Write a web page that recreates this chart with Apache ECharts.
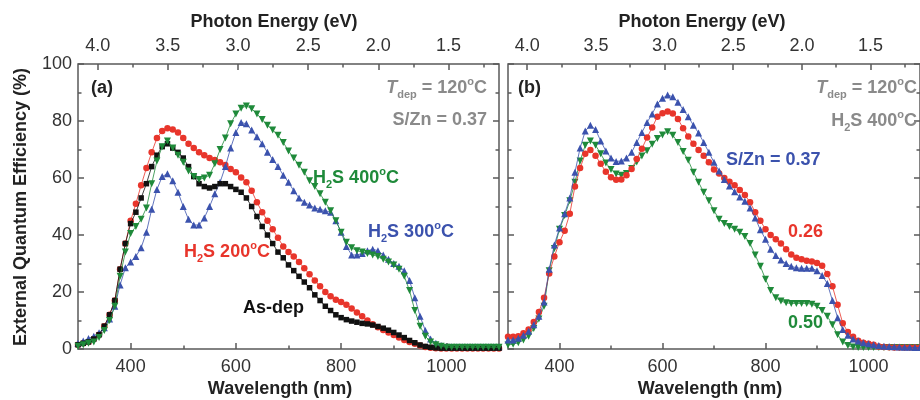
<!DOCTYPE html>
<html><head><meta charset="utf-8">
<script src="https://cdn.jsdelivr.net/npm/echarts@6/dist/echarts.min.js"></script>
<style>html,body{margin:0;padding:0;background:#fff}#c{width:920px;height:400px}</style>
</head><body><div id="c"></div>
<script>
// ---- data (EQE %, every 10 nm) ----
const wavelength = [300,310,320,330,340,350,360,370,380,390,400,410,420,430,440,450,460,470,480,490,500,510,520,530,540,550,560,570,580,590,600,610,620,630,640,650,660,670,680,690,700,710,720,730,740,750,760,770,780,790,800,810,820,830,840,850,860,870,880,890,900,910,920,930,940,950,960,970,980,990,1000,1010,1020,1030,1040,1050,1060,1070,1080,1090,1100];

// panel (a)
const asDep = [1.5,2,2.5,3.5,5,8,12,17,28,37,44,48,53,58,64,68,71,72,70.5,69,67,64,60.5,58,57,56.5,57,58,58,57,56,55,53,50,46.5,43,40,37,34,32,29.5,27.5,25.5,23.5,21.5,19,17,15,13.5,12,11,10.3,9.8,9.4,9,8.8,8.4,7.9,7.3,6.6,5.8,4.9,4,3,2.2,1.4,0.9,0.6,0.4,0.3,0.3,0.3,0.3,0.3,0.3,0.3,0.3,0.3,0.3,0.3,0.3];
const h2s200 = [1.5,2,2.5,3.5,5,8,12,17,28,37,45,51,57.5,63.5,69,74,76.5,77.5,77,76,74,72,70.5,69,68,67,66.3,65.5,64.6,63.2,62,60.2,58.5,55.5,51.5,48,45,42,39,36,34,32.5,30.5,28.3,26.2,24,22,20,18.5,17.3,16.5,15.5,14.2,12.8,11.5,10,8.7,7.6,6.7,5.8,4.9,4,3.2,2.5,1.8,1.2,0.7,0.4,0.3,0.2,0.2,0.2,0.2,0.2,0.2,0.2,0.2,0.2,0.2,0.2,0.2];
const h2s300 = [2,2.8,3.7,4.5,5.7,7.5,10.5,15,22.5,28.5,30.5,32.5,35.5,41,49,56,60.5,61.5,59,55,50,45.5,43.5,43.5,46,50,54.5,58.5,64,70.5,76,79.5,79,76.8,74.5,72,69,66.5,64,61,58.5,55.5,53,51.5,50.5,49.5,49,48.5,48,45,41,36,33,33,33.5,34.5,35,34.5,33,31.5,30,29,27.5,24,18,11.5,6.5,3.5,2,1.2,0.8,0.8,0.8,0.8,0.8,0.8,0.8,0.8,0.8,0.8,0.8];
const h2s400 = [1,1.5,2,2.5,4,6.5,10,15,25.5,34,40.5,43,45.5,49.5,58,66,71,73,70.5,68,65.5,62.5,60.5,59.5,60,61,65,70,74,79,82.5,84.5,85.3,84.3,82.5,80.5,78.5,76.8,75,72.5,69.5,67,64.5,62,59,57,54.5,51.5,48.5,45,41,37.5,35.5,34.5,34,33.5,33,32.5,31.5,30.5,29.5,28,25.5,20.5,13.5,8,4.5,2.5,1.5,1,0.6,0.6,0.6,0.6,0.6,0.6,0.6,0.6,0.6,0.6,0.6];

// panel (b)
const sz037 = [3.2,3.2,3.8,4.8,6.2,8.5,11.5,16.5,28,36.5,42.5,47.5,53,62,70.5,76.5,78.5,77,73,69.5,67,65.8,66,67,69,72.5,76,79.5,82.5,86,88,89.1,88.5,86.6,84,81.5,78.5,75.8,72.5,69,65.5,62.5,59.5,57.2,55.2,53.3,51.8,49.5,46,41.8,38.5,35,32.8,31.2,30,29,28.5,28.3,28.3,28.3,27.5,25.8,23,17,11,6.8,4.8,3.5,2.8,2.2,1.8,1.5,1.2,1,0.9,0.8,0.7,0.6,0.6,0.5,0.5];
const sz026 = [4.3,4.3,4.5,5.5,6.8,9.5,13,18,26.5,32.5,37.5,41.5,47.5,57,63.5,68.5,69.8,67.8,65,62.2,60.3,59.4,59.5,61,63.2,66.7,70.3,74.2,77.7,81.5,82.7,83.3,82.6,80.7,77.5,74.6,72,69.8,67.8,65.5,63,61.6,60,58.7,57.5,55.8,54,51.5,48,45,42,40,38.5,37,35,33.2,32,31.5,31,30.7,30.2,29.2,26.3,22,15.5,9,6,4.3,2.9,2.2,1.8,1.5,0.9,0.7,0.6,0.5,0.5,0.5,0.5,0.5,0.5];
const sz050 = [1.4,1.7,2.2,3.2,4.5,7.2,10.5,15,27.5,35.3,42,46.8,52,58.5,66,71.5,73,71.5,68.5,65.3,63,61.4,61,61.6,63.3,65.6,67.7,69.6,71.8,73.9,75.1,76.2,75,72.5,69.3,66.2,62,58.5,55,52,48.5,45.5,44,43,42,41,39.5,37,33,29,24.5,20.5,18,16.8,16.2,16,16,16,16,15.7,15,13.5,11.5,8.5,5,2.5,1.2,0.7,0.5,0.5,0.5,0.5,0.5,0.5,0.5,0.5,0.5,0.5,0.5,0.5,0.5];

// tick labels
const wlTickLabels = [400, 600, 800, 1000];
const wlMinorTicks = [500, 700, 900];
const energyTickLabels = [1.5, 2.0, 2.5, 3.0, 3.5, 4.0];
const energyMinorTicks = [1.25, 1.75, 2.25, 2.75, 3.25, 3.75];

// ---- styling ----
const FONT = "'Liberation Sans', Arial, Helvetica, sans-serif";
const AX = '#5a5a5a';
const LBL = '#333';
const RED = '#e8352b', BLUE = '#3b52ad', GREEN = '#1f8a3a', BLACK = '#111', GRAY = '#8a8a8a';

const grids = [
  {left: 78, top: 64, width: 421, height: 285},
  {left: 508, top: 64, width: 419, height: 285}
];

function xAxesFor(g) {
  const tickStyle = {color: AX, width: 1.5};
  return [
    {gridIndex: g, type: 'value', position: 'bottom', min: 300, max: 1100,
     axisLine: {show: false}, splitLine: {show: false},
     axisTick: {show: true, inside: true, length: 6, customValues: wlTickLabels, lineStyle: tickStyle},
     axisLabel: {show: true, customValues: wlTickLabels, fontSize: 18, color: LBL, fontFamily: FONT, margin: 9,
                 formatter: v => String(Math.round(v))}},
    {gridIndex: g, type: 'value', position: 'bottom', min: 300, max: 1100,
     axisLine: {show: false}, splitLine: {show: false},
     axisTick: {show: true, inside: true, length: 3.5, customValues: wlMinorTicks, lineStyle: tickStyle},
     axisLabel: {show: false}},
    {gridIndex: g, type: 'value', position: 'top', inverse: true, min: 1.14, max: 4.14,
     axisLine: {show: false}, splitLine: {show: false},
     axisTick: {show: true, inside: true, length: 6, customValues: energyTickLabels, lineStyle: tickStyle},
     axisLabel: {show: true, customValues: energyTickLabels, fontSize: 18, color: LBL, fontFamily: FONT, margin: 9,
                 formatter: v => Number(v).toFixed(1)}},
    {gridIndex: g, type: 'value', position: 'top', inverse: true, min: 1.14, max: 4.14,
     axisLine: {show: false}, splitLine: {show: false},
     axisTick: {show: true, inside: true, length: 3.5, customValues: energyMinorTicks, lineStyle: tickStyle},
     axisLabel: {show: false}}
  ];
}
function yAxesFor(g, showLabels) {
  const base = {gridIndex: g, type: 'value', min: 0, max: 100, interval: 20,
    axisLine: {show: false}, splitLine: {show: false},
    axisTick: {show: true, inside: true, length: 6, lineStyle: {color: AX, width: 1.5}},
    minorTick: {show: true, splitNumber: 2, length: 3.5, lineStyle: {color: AX, width: 1.5}}};
  return [
    Object.assign({}, base, {position: 'left', axisLabel: {show: showLabels, fontSize: 18, color: LBL, fontFamily: FONT, margin: 6}}),
    Object.assign({}, base, {position: 'right', axisLabel: {show: false}})
  ];
}

function mkSeries(name, arr, color, symbol, size, rotate, xi, yi, z) {
  return {
    name, type: 'line', xAxisIndex: xi, yAxisIndex: yi,
    data: wavelength.map((w, i) => [w, arr[i]]),
    symbol, symbolSize: size, symbolRotate: rotate, showSymbol: true, showAllSymbol: true,
    itemStyle: {color}, lineStyle: {color, width: 1, opacity: 0.8},
    z, animation: false, clip: true
  };
}

// rich text for labels
function rich(fs, bold, color) {
  const w = bold ? 'bold' : 'normal';
  return {
    n: {fontSize: fs, fontWeight: w, fontFamily: FONT, fill: color, lineHeight: 24, verticalAlign: 'middle'},
    it: {fontSize: fs, fontWeight: w, fontStyle: 'italic', fontFamily: FONT, fill: color, lineHeight: 24, verticalAlign: 'middle'},
    sub: {fontSize: 11, fontWeight: w, fontFamily: FONT, fill: color, lineHeight: 11, verticalAlign: 'bottom'},
    sup: {fontSize: 11, fontWeight: w, fontFamily: FONT, fill: color, lineHeight: 11, verticalAlign: 'top'}
  };
}
function txt(x, y, text, color, align, fs, bold, extra) {
  return Object.assign({
    type: 'text', x, y, z: 100,
    style: {text, rich: rich(fs || 18, bold !== false, color), fill: color,
            font: (bold !== false ? 'bold ' : '') + (fs || 18) + 'px ' + FONT,
            align: align || 'left', verticalAlign: 'middle'}
  }, extra || {});
}

const option = {
  animation: false,
  backgroundColor: '#fff',
  grid: grids.map(g => Object.assign({show: true, borderColor: AX, borderWidth: 1.5, backgroundColor: 'transparent', containLabel: false}, g)),
  xAxis: [...xAxesFor(0), ...xAxesFor(1)],
  yAxis: [...yAxesFor(0, true), ...yAxesFor(1, false)],
  series: [
    mkSeries('H2S 200', h2s200, RED, 'circle', 6.5, 0, 0, 0, 2),
    mkSeries('H2S 300', h2s300, BLUE, 'triangle', 7, 0, 0, 0, 3),
    mkSeries('As-dep', asDep, BLACK, 'rect', 5.5, 0, 0, 0, 4),
    mkSeries('H2S 400', h2s400, GREEN, 'triangle', 7, 180, 0, 0, 5),
    mkSeries('0.50', sz050, GREEN, 'triangle', 7, 180, 4, 2, 2),
    mkSeries('0.26', sz026, RED, 'circle', 6.5, 0, 4, 2, 3),
    mkSeries('0.37', sz037, BLUE, 'triangle', 7, 0, 4, 2, 4)
  ],
  graphic: [
    txt(274, 22, '{n|Photon Energy (eV)}', '#222', 'center'),
    txt(702, 22, '{n|Photon Energy (eV)}', '#222', 'center'),
    txt(280, 389, '{n|Wavelength (nm)}', '#222', 'center'),
    txt(710, 389, '{n|Wavelength (nm)}', '#222', 'center'),
    txt(21, 207, '{n|External Quantum Efficiency (%)}', '#222', 'center', 18, true, {rotation: Math.PI / 2}),
    txt(91, 88, '{n|(a)}', '#222', 'left'),
    txt(518, 88, '{n|(b)}', '#222', 'left'),
    txt(487, 88, '{it|T}{sub|dep}{n| = 120}{sup|o}{n|C}', GRAY, 'right'),
    txt(487, 120, '{n|S/Zn = 0.37}', GRAY, 'right'),
    txt(917, 88, '{it|T}{sub|dep}{n| = 120}{sup|o}{n|C}', GRAY, 'right'),
    txt(917, 121, '{n|H}{sub|2}{n|S 400}{sup|o}{n|C}', GRAY, 'right'),
    txt(313, 178, '{n|H}{sub|2}{n|S 400}{sup|o}{n|C}', GREEN, 'left'),
    txt(368, 232, '{n|H}{sub|2}{n|S 300}{sup|o}{n|C}', BLUE, 'left'),
    txt(184, 252, '{n|H}{sub|2}{n|S 200}{sup|o}{n|C}', RED, 'left'),
    txt(243, 308, '{n|As-dep}', '#111', 'left'),
    txt(726, 160, '{n|S/Zn = 0.37}', BLUE, 'left'),
    txt(823, 232, '{n|0.26}', RED, 'right'),
    txt(823, 323, '{n|0.50}', GREEN, 'right')
  ]
};

const chart = echarts.init(document.getElementById('c'), null, {renderer: 'canvas'});
chart.setOption(option);
</script>
</body></html>
